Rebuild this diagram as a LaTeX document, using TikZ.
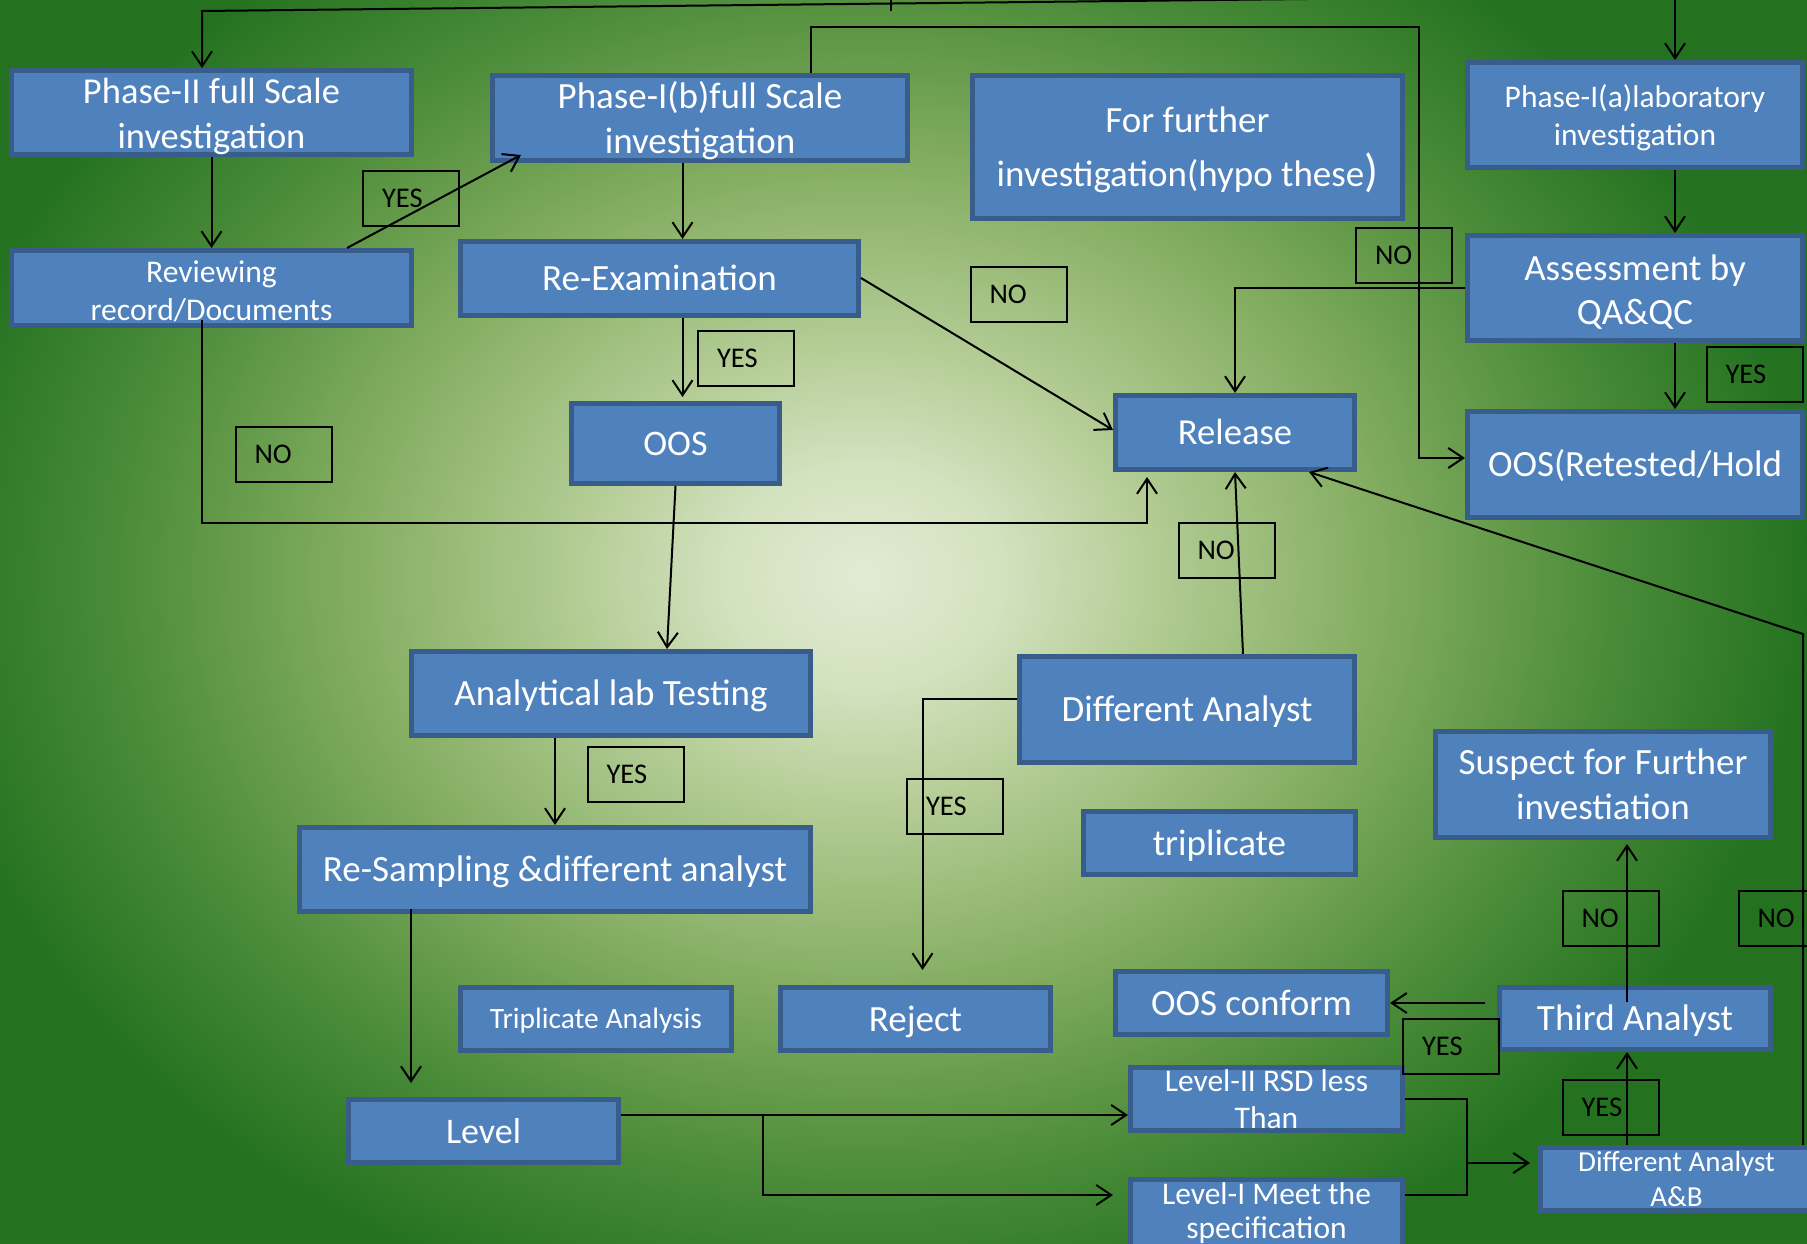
\documentclass[tikz,border=0pt]{standalone}
\usepackage{fontspec}
\setmainfont{Carlito}
\usetikzlibrary{arrows.meta}
\definecolor{boxfill}{RGB}{79,129,189}
\definecolor{boxline}{RGB}{56,93,138}
\definecolor{ga}{RGB}{225,235,212}
\definecolor{gb}{RGB}{210,225,190}
\definecolor{gc}{RGB}{180,205,150}
\definecolor{gd}{RGB}{130,172,95}
\definecolor{ge}{RGB}{72,138,55}
\definecolor{gf}{RGB}{45,120,38}
\definecolor{gg}{RGB}{36,114,32}
\pgfdeclareradialshading{bgshade}{\pgfpoint{0bp}{0bp}}{color(0bp)=(ga); color(3.75bp)=(gb); color(7.5bp)=(gc); color(13.75bp)=(gd); color(20bp)=(ge); color(23.75bp)=(gf); color(25bp)=(gg); color(50bp)=(gg)}
\begin{document}
\begin{tikzpicture}[x=1pt,y=-1pt,
  box/.style={draw=boxline, fill=boxfill, line width=5pt, text=white, inner sep=0pt, align=center},
  f37/.style={font=\fontsize{37}{45}\selectfont},
  one/.style={text height=24pt, text depth=0pt},
  lbl/.style={draw=black, line width=2pt, minimum width=96pt, minimum height=55pt, inner xsep=19pt, inner ysep=0pt, text width=58pt, align=left, font=\fontsize{28.5}{32}\selectfont, text height=18pt, text depth=0pt},
  line/.style={line width=2pt},
  conn/.style={line width=2pt, -{Straight Barb[length=15pt,width=20pt]}}]
\useasboundingbox (0,0) rectangle (1807,1244);
\shade[shading=bgshade] (-81,-192) rectangle (1809,1344);

% boxes
\node[box, minimum width=400pt, minimum height=74pt, font=\fontsize{36.5}{45}\selectfont] (ph2) at (211.5,112.5) {\rule{0pt}{32.5pt}Phase-II full Scale\\investigation};
\node[box, minimum width=415pt, minimum height=85pt, f37] (ph1b) at (700,118) {\rule{0pt}{33pt}Phase-I(b)full Scale\\investigation};
\node[box, minimum width=430pt, minimum height=143pt, font=\fontsize{37}{54}\selectfont] (further) at (1187.5,147) {\rule{0pt}{32pt}For further\\investigation(hypo these{\fontsize{46}{54}\selectfont)}};
\node[box, minimum width=335pt, minimum height=105pt, font=\fontsize{31.5}{38}\selectfont] (ph1a) at (1635,115) {\rule{0pt}{29pt}Phase-I(a)laboratory\\investigation};
\node[box, minimum width=400pt, minimum height=75pt, font=\fontsize{31.6}{38}\selectfont] (review) at (211.5,288) {\rule{0pt}{28pt}Reviewing\\record/Documents};
\node[box, one, minimum width=398pt, minimum height=74pt, f37] (reexam) at (659.5,278.5) {Re-Examination};
\node[box, minimum width=335pt, minimum height=105pt, font=\fontsize{37}{44}\selectfont] (assess) at (1635,288) {\rule{0pt}{33pt}Assessment by\\QA\&QC};
\node[box, one, minimum width=208pt, minimum height=80pt, font=\fontsize{36}{44}\selectfont] (oos) at (675.5,443.5) {OOS};
\node[box, one, minimum width=239pt, minimum height=74pt, font=\fontsize{36.6}{44}\selectfont] (release) at (1235,432.5) {Release};
\node[box, one, minimum width=335pt, minimum height=106pt, f37] (oosret) at (1635,464.5) {OOS(Retested/Hold};
\node[box, one, minimum width=399pt, minimum height=84pt, f37] (anal) at (611,693.5) {Analytical lab Testing};
\node[box, one, minimum width=335pt, minimum height=106pt, f37] (diffan) at (1187,709.5) {Different Analyst};
\node[box, minimum width=335pt, minimum height=106pt, f37] (suspect) at (1603,784.5) {Suspect for Further\\investiation};
\node[box, one, minimum width=272pt, minimum height=63pt, f37] (tripl) at (1219.5,843) {triplicate};
\node[box, one, minimum width=511pt, minimum height=84pt, f37] (resamp) at (555,869.5) {Re-Sampling \&different analyst};
\node[box, minimum width=271pt, minimum height=63pt, font=\fontsize{29.5}{36}\selectfont, text height=19pt, text depth=0pt] (triana) at (596,1019) {Triplicate Analysis};
\node[box, one, minimum width=270pt, minimum height=63pt, f37] (reject) at (915.5,1019) {Reject};
\node[box, one, minimum width=272pt, minimum height=63pt, f37] (oosconf) at (1251.5,1003) {OOS conform};
\node[box, one, minimum width=271pt, minimum height=62pt, f37] (third) at (1635,1018.5) {Third Analyst};
\node[box, one, minimum width=270pt, minimum height=63pt, font=\fontsize{36}{44}\selectfont] (level) at (483.5,1131) {Level};
\node[box, minimum width=272pt, minimum height=63pt, font=\fontsize{31.5}{37}\selectfont] (lvl2) at (1266.5,1099) {Level-II RSD less\\Than};
\node[box, minimum width=272pt, minimum height=67pt, font=\fontsize{31.5}{34}\selectfont] (lvl1) at (1266.5,1213) {Level-I Meet the\\specification};
\node[box, minimum width=272pt, minimum height=63pt, font=\fontsize{29}{35}\selectfont] (diffab) at (1676.5,1179) {Different Analyst\\A\&B};

% connectors
\coordinate (t0) at (1400,-2);
\coordinate (t1) at (202,11);
\draw[conn] (t0) -- (t1) -- ([xshift=-9.5pt]ph2.north);
\coordinate (k0) at (891,-2);
\coordinate (k1) at (891,11);
\draw[line] (k0) -- (k1);
\coordinate (t2) at (1675,-2);
\draw[conn] (t2) -- ([xshift=40pt]ph1a.north);
\coordinate (t3) at (1419,27);
\draw[conn] ([xshift=111pt]ph1b.north) |- (t3) |- ([yshift=6.5pt]oosret.west);
\draw[conn] (ph2.south) -- (review.north);
\draw[conn] ([xshift=135.5pt]review.north) -- ([xshift=-179pt,yshift=8pt]ph1b.south);
\draw[conn] ([xshift=-17.5pt]ph1b.south) -- ([xshift=23pt]reexam.north);
\draw[conn] ([yshift=0.5pt]reexam.east) -- ([yshift=2.5pt]release.west);
\draw[conn] ([xshift=23pt]reexam.south) -- ([xshift=7pt,yshift=4pt]oos.north);
\coordinate (j1) at (1147,523);
\draw[conn] ([xshift=-9.5pt,yshift=8pt]review.south) |- (j1) -- ([xshift=-88pt,yshift=-5pt]release.south);
\draw[conn] (assess.west) -| (release.north);
\draw[conn] ([xshift=40pt]ph1a.south) -- ([xshift=40pt]assess.north);
\draw[conn] ([xshift=40pt]assess.south) -- ([xshift=40pt]oosret.north);
\draw[conn] (oos.south) -- ([xshift=56pt]anal.north);
\draw[conn] ([xshift=-56pt]anal.south) -- (resamp.north);
\draw[conn] ([xshift=56pt]diffan.north) -- (release.south);
\draw[conn] ([yshift=10.5pt]diffan.west) -| ([xshift=7pt,yshift=15pt]reject.north);
\coordinate (j2) at (1803,634);
\draw[conn] ([xshift=126.5pt]diffab.north) -- (j2) -- ([xshift=74pt]release.south);
\draw[conn] ([xshift=-8pt,yshift=-17pt]third.north) -- ([xshift=24pt,yshift=-4pt]suspect.south);
\draw[conn] ([xshift=-12pt,yshift=15.5pt]third.west) -- (oosconf.east);
\draw[conn] ([xshift=-49.5pt]diffab.north) -- ([xshift=-8pt]third.south);
\draw[conn] ([xshift=-144pt,yshift=5pt]resamp.south) -- ([xshift=-72.5pt,yshift=14pt]level.north);
\coordinate (j3) at (763,1115);
\draw[conn] ([yshift=16pt]level.east) -- ([yshift=-16pt]lvl2.west);
\draw[conn] (j3) |- ([xshift=-15pt,yshift=18pt]lvl1.west);
\coordinate (j4) at (1467,1099);
\coordinate (j5) at (1467,1195);
\draw[line] (lvl2.east) -- (j4) -- (j5) -- ([yshift=18pt]lvl1.east);
\coordinate (j6) at (1467,1163);
\draw[conn] (j6) -- ([xshift=-8pt,yshift=16pt]diffab.west);

% labels
\node[lbl] (l1) at (411,198.5) {YES};
\node[lbl] (l2) at (746,358) {YES};
\node[lbl] (l3) at (1018.5,294.5) {NO};
\node[lbl] (l4) at (1404,255.5) {NO};
\node[lbl] (l5) at (1754.5,374.5) {YES};
\node[lbl] (l6) at (283.5,454.5) {NO};
\node[lbl] (l7) at (1226.5,550.5) {NO};
\node[lbl] (l8) at (635.5,774.5) {YES};
\node[lbl] (l9) at (955,806) {YES};
\node[lbl] (l10) at (1610.5,918) {NO};
\node[lbl] (l11) at (1786.5,918) {NO};
\node[lbl] (l12) at (1451,1046.5) {YES};
\node[lbl] (l13) at (1610.5,1107.5) {YES};
\end{tikzpicture}
\end{document}
